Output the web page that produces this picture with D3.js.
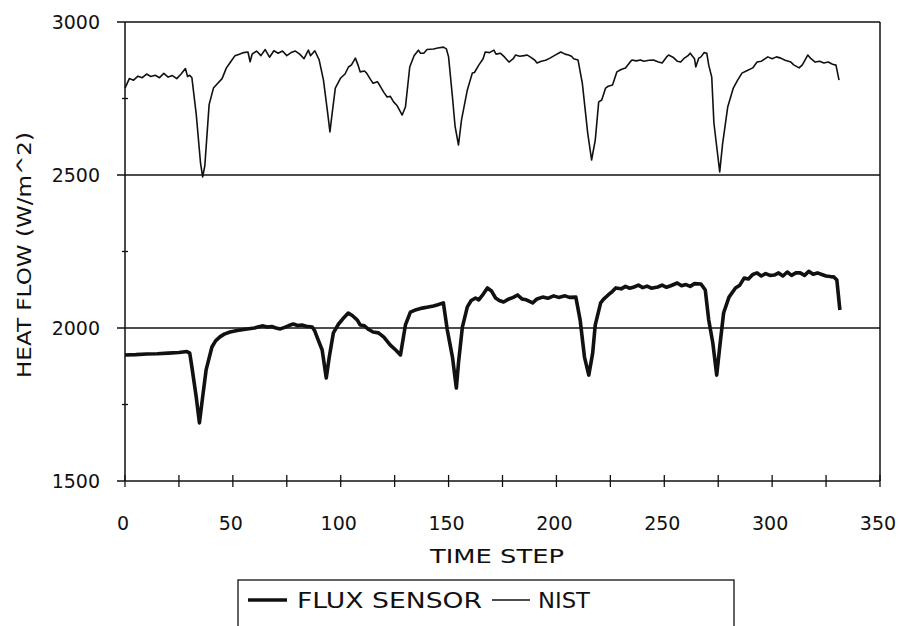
<!DOCTYPE html>
<html>
<head>
<meta charset="utf-8">
<script src="https://cdn.jsdelivr.net/npm/d3@7"></script>
<style>
  body { margin: 0; background: #fff; }
  text { font-family: "DejaVu Sans", sans-serif; fill: #111; }
</style>
</head>
<body>
<div id="chart-area"></div>
<script>
var nistT = [0,2,4,6,8,10,12,14,16,18,20,22,24,26,28,29,30,31,33,35,36,37,39,41,43,45,47,49,51,53,55,57,58,59,61,63,65,67,69,71,73,75,77,79,81,83,85,86,88,90,92,94,95,96,97.5,100,102,103.6,105,106.8,108,109,111,112,114,115,117,118,120,121.5,123,124.5,126,128.5,130,132,134,136,137,138.5,140,143,145,147.6,149,150,151.8,153,154.6,156,158.7,161,162,164,166,167,169,171,172,174,176,178,180,181,183,185,186.5,188,190,191,193,195,197,199,202,204,205.6,207,208,210,212,214.5,216.3,218,219.6,221,222.8,224,226,228,230,232,234,235,237,239,240.5,243,245,247,249,251,252,254,256,257.6,259,261,262,264,264.6,266,267,268.5,269.7,270.6,272,273,275.7,277,279.4,282,284,286,288,291,293,295,298,300,302,304,306,308.7,310,312.5,314,316.5,318,320,322,324,326,328,329.6,331];
var nistV = [2784,2815,2810,2823,2818,2830,2822,2826,2818,2832,2820,2825,2815,2830,2848,2822,2826,2818,2700,2540,2494,2530,2730,2784,2800,2815,2850,2870,2890,2895,2900,2902,2870,2896,2905,2890,2910,2885,2906,2898,2905,2890,2900,2905,2895,2880,2908,2890,2906,2876,2810,2700,2641,2700,2784,2817,2830,2853,2860,2882,2860,2837,2840,2833,2810,2800,2805,2794,2770,2755,2757,2739,2728,2696,2722,2853,2890,2908,2898,2898,2910,2912,2915,2918,2912,2886,2755,2660,2598,2680,2778,2833,2835,2859,2880,2902,2900,2908,2895,2898,2885,2869,2880,2892,2888,2890,2892,2885,2875,2866,2872,2875,2882,2890,2902,2895,2892,2888,2880,2876,2800,2637,2549,2614,2739,2745,2784,2790,2794,2837,2845,2850,2868,2876,2873,2876,2872,2875,2876,2870,2866,2885,2892,2885,2872,2869,2880,2890,2898,2880,2853,2882,2886,2900,2898,2859,2820,2670,2510,2600,2722,2784,2810,2833,2840,2850,2869,2872,2886,2880,2886,2882,2875,2869,2860,2850,2860,2892,2880,2869,2872,2866,2869,2862,2859,2810];

var fluxT = [0,5,10,15,20,25,28.7,30,31,33,34.5,36,37.6,40.3,42,44,46,48.7,52,56.6,60,62,64,66,68,70,72,74,76,78,80,82,84,86.8,88,89,91.4,93.3,94.7,96.6,99,101,103.5,105.5,107.7,109,111,113,115,117.5,120,123,125.5,127.7,130,132.3,135,137.8,140,143,145,147.6,149.4,151.8,153.6,154.6,156.4,158.7,160.5,162.5,164,166,168,170,171.8,173.5,175.5,178,180,182,184,186,189,191,193.6,196,198.7,201,204,206,209,211,213,215,216.8,218,220.5,222,224,226,227.5,230,232,234,236,238,240,242,244,247,249,251,253,256,258,260,262,264,267,269,270.6,272.5,274.3,275.7,277.5,280,283,285,287,289,291,293,295,297,299,301,303,305,307,309,311,313,315,317,319,321,323,325,327,328.6,330,331.4];
var fluxV = [1912,1913,1915,1916,1918,1920,1923,1918,1873,1775,1690,1775,1863,1938,1958,1971,1980,1987,1992,1997,2000,2004,2007,2003,2005,2000,1997,2002,2008,2013,2008,2010,2006,2003,1990,1971,1928,1837,1905,1984,2013,2030,2049,2040,2026,2010,2007,1995,1987,1984,1970,1944,1928,1912,2010,2052,2060,2065,2068,2072,2076,2082,1994,1905,1804,1886,2003,2069,2090,2098,2092,2110,2131,2120,2098,2090,2085,2095,2100,2108,2095,2092,2082,2095,2101,2097,2105,2100,2105,2100,2101,2026,1905,1846,1918,2010,2082,2095,2108,2120,2131,2128,2136,2130,2134,2140,2132,2137,2130,2134,2140,2133,2138,2147,2138,2142,2136,2145,2144,2124,2026,1951,1846,1938,2049,2101,2131,2140,2163,2160,2175,2180,2170,2178,2172,2173,2180,2170,2183,2172,2180,2180,2172,2185,2176,2180,2175,2170,2168,2167,2157,2059];

var yMajor = [1500, 2000, 2500, 3000];
var yMinor = [1750, 2250, 2750];
var xTicks = [0, 25, 50, 75, 100, 125, 150, 175, 200, 225, 250, 275, 300, 325, 350];
var xLabels = [0, 50, 100, 150, 200, 250, 300, 350];
var seriesNames = ["FLUX SENSOR", "NIST"];

var width = 755;
var height = 459;
var margin = {top: 22, right: 19, bottom: 145, left: 125};
var ink = "#111";

var svg = d3.select("#chart-area").append("svg")
    .attr("width", 899)
    .attr("height", 626);

var g = svg.append("g")
    .attr("transform", "translate(" + margin.left + ", " + margin.top + ")");

var x = d3.scaleLinear().domain([0, 350]).range([0, width]);
var y = d3.scaleLinear().domain([1500, 3000]).range([height, 0]);

// horizontal rules at the major values, they poke out left of the axis
g.selectAll(".grid")
    .data(yMajor)
    .enter()
    .append("line")
        .attr("x1", -8)
        .attr("x2", width)
        .attr("y1", (d) => { return y(d); })
        .attr("y2", (d) => { return y(d); })
        .attr("stroke", ink)
        .attr("stroke-width", 1.3);

// left axis and right border
g.append("line").attr("x1", 0).attr("x2", 0).attr("y1", 0).attr("y2", height)
    .attr("stroke", ink).attr("stroke-width", 1.5);
g.append("line").attr("x1", width).attr("x2", width).attr("y1", 0).attr("y2", height)
    .attr("stroke", ink).attr("stroke-width", 1.5);

g.selectAll(".yminor")
    .data(yMinor)
    .enter()
    .append("line")
        .attr("x1", -3)
        .attr("x2", 3)
        .attr("y1", (d) => { return y(d); })
        .attr("y2", (d) => { return y(d); })
        .attr("stroke", ink)
        .attr("stroke-width", 1.3);

g.selectAll(".ylabel")
    .data(yMajor)
    .enter()
    .append("text")
        .attr("x", -25)
        .attr("y", (d) => { return y(d) + 7; })
        .attr("text-anchor", "end")
        .attr("font-size", "19px")
        .text((d) => { return d; });

// x ticks cross the axis line
g.selectAll(".xtick")
    .data(xTicks)
    .enter()
    .append("line")
        .attr("x1", (d) => { return x(d); })
        .attr("x2", (d) => { return x(d); })
        .attr("y1", height - 6)
        .attr("y2", height + 6)
        .attr("stroke", ink)
        .attr("stroke-width", 1.3);

g.selectAll(".xlabel")
    .data(xLabels)
    .enter()
    .append("text")
        .attr("x", (d) => { return x(d) - 2; })
        .attr("y", height + 49)
        .attr("text-anchor", "middle")
        .attr("font-size", "19px")
        .text((d) => { return d; });

var line = d3.line()
    .x((d) => { return x(d[0]); })
    .y((d) => { return y(d[1]); });

var nist = d3.zip(nistT, nistV);
var flux = d3.zip(fluxT, fluxV);

g.append("path")
    .datum(nist)
    .attr("d", line)
    .attr("fill", "none")
    .attr("stroke", ink)
    .attr("stroke-width", 1.6)
    .attr("stroke-linejoin", "round");

g.append("path")
    .datum(flux)
    .attr("d", line)
    .attr("fill", "none")
    .attr("stroke", ink)
    .attr("stroke-width", 3.6)
    .attr("stroke-linejoin", "round");

g.append("text")
    .attr("x", 372)
    .attr("y", height + 82)
    .attr("text-anchor", "middle")
    .attr("font-size", "19px")
    .attr("textLength", 134)
    .attr("lengthAdjust", "spacingAndGlyphs")
    .text("TIME STEP");

svg.append("text")
    .attr("transform", "translate(31, 255) rotate(-90)")
    .attr("text-anchor", "middle")
    .attr("font-size", "19px")
    .attr("textLength", 246)
    .attr("lengthAdjust", "spacingAndGlyphs")
    .text("HEAT FLOW (W/m^2)");

// legend, cut off by the bottom edge like the scan
var legend = svg.append("g");
legend.append("rect")
    .attr("x", 238).attr("y", 580)
    .attr("width", 496).attr("height", 70)
    .attr("fill", "none")
    .attr("stroke", ink)
    .attr("stroke-width", 1.3);

var legendItems = [
    {name: seriesNames[0], x1: 248, x2: 287, tx: 297, tw: 185, sw: 3.6},
    {name: seriesNames[1], x1: 492, x2: 530, tx: 538, tw: 52, sw: 1.6}
];
legendItems.forEach((d) => {
    legend.append("line")
        .attr("x1", d.x1).attr("x2", d.x2)
        .attr("y1", 600).attr("y2", 600)
        .attr("stroke", ink).attr("stroke-width", d.sw);
    legend.append("text")
        .attr("x", d.tx).attr("y", 608)
        .attr("font-size", "21px")
        .attr("textLength", d.tw)
        .attr("lengthAdjust", "spacingAndGlyphs")
        .text(d.name);
});
</script>
</body>
</html>
